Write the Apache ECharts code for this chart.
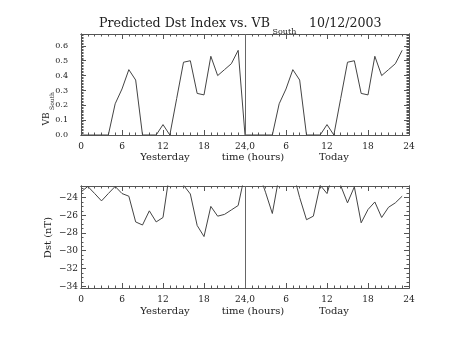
<!DOCTYPE html>
<html>
<head>
<meta charset="utf-8">
<script src="https://cdn.jsdelivr.net/npm/echarts@6/dist/echarts.min.js"></script>
<style>html,body{margin:0;padding:0;background:#fff}#c{width:453px;height:340px}</style>
</head>
<body>
<div id="c"></div>
<script>
// ---- data ----
const hours = [0,1,2,3,4,5,6,7,8,9,10,11,12,13,14,15,16,17,18,19,20,21,22,23,
               24,25,26,27,28,29,30,31,32,33,34,35,36,37,38,39,40,41,42,43,44,45,46,47];
const vbYesterday = [0,0,0,0,0,0.21,0.31,0.44,0.37,0,0,0,0.07,0,0.245,0.49,0.50,0.28,0.27,0.53,0.40,0.44,0.48,0.57];
const vbToday     = [0,0,0,0,0,0.21,0.31,0.44,0.37,0,0,0,0.07,0,0.245,0.49,0.50,0.28,0.27,0.53,0.40,0.44,0.48,0.57];
const dstYesterday = [-23.37,-22.75,-23.55,-24.38,-23.55,-22.75,-23.55,-23.85,-26.75,-27.1,-25.5,-26.75,-26.25,-21.05,-21.5,-22.6,-23.6,-27.15,-28.4,-25.0,-26.1,-25.9,-25.4,-24.9];
const dstToday     = [-21.3,-21.0,-21.2,-23.4,-25.8,-21.55,-21.0,-21.05,-24.0,-26.5,-26.1,-22.6,-23.55,-21.05,-22.65,-24.6,-22.8,-26.85,-25.35,-24.5,-26.25,-25.1,-24.6,-23.85];
const xTickValues = [0,6,12,18,24,30,36,42,48];
const xTickLabels = ['0','6','12','18','24,0','6','12','18','24'];
const vbTickValues = [0,0.1,0.2,0.3,0.4,0.5,0.6];
const vbTickLabels = ['0.0','0.1','0.2','0.3','0.4','0.5','0.6'];
const dstTickValues = [-34,-32,-30,-28,-26,-24];
const dstTickLabels = ['\u221234','\u221232','\u221230','\u221228','\u221226','\u221224'];
const titleText = 'Predicted Dst Index vs. VB';
const titleSub = 'South';
const dateText = '10/12/2003';

// ---- build ----
const vbAll = vbYesterday.concat(vbToday);
const dstAll = dstYesterday.concat(dstToday);
const vbData = hours.map((h,i)=>[h, vbAll[i]]);
const dstData = hours.map((h,i)=>[h, dstAll[i]]);

const xMinor = []; for (let i=0;i<=48;i++) xMinor.push(i);
const vbMinor = []; for (let i=0;i<=68;i++) vbMinor.push(+(i*0.01).toFixed(2));
const dstMinor = []; for (let v=-34;v<=-22.75;v+=0.5) dstMinor.push(v);

const AX = '#555', TX = '#222';
const FONT = 'DejaVu Serif';

function xAxis(grid, pos, labels, ticks, len){
  return {type:'value', gridIndex:grid, position:pos, min:0, max:48,
    axisLine:{show:true, onZero:false, lineStyle:{color:AX,width:1}},
    axisTick:{show:true, inside:true, length:len, customValues:ticks, lineStyle:{color:AX,width:1}},
    axisLabel:{show:labels, customValues:xTickValues, margin:7, fontFamily:FONT, fontSize:9, color:TX,
      formatter:(v)=>xTickLabels[xTickValues.indexOf(v)]},
    splitLine:{show:false}};
}
function yAxis(grid, pos, min, max, labels, ticks, len, labVals, labTexts, margin, fs){
  return {type:'value', gridIndex:grid, position:pos, min:min, max:max,
    axisLine:{show:true, onZero:false, lineStyle:{color:AX,width:1}},
    axisTick:{show:true, inside:true, length:len, customValues:ticks, lineStyle:{color:AX,width:1}},
    axisLabel:{show:labels, customValues:labVals, margin:margin, fontFamily:FONT, fontSize:fs||9, color:TX,
      formatter:(v)=>{ const i = labVals.findIndex(t=>Math.abs(t-v)<1e-6); return i>=0?labTexts[i]:''; }},
    splitLine:{show:false}};
}

const chart = echarts.init(document.getElementById('c'), null, {renderer:'canvas'});
const vline = {silent:true, symbol:['none','none'], label:{show:false},
  lineStyle:{type:'solid', color:'#666', width:1}, data:[{xAxis:24}]};

function txt(x,y,text,size,opts){
  return Object.assign({type:'text', x:x, y:y, silent:true,
    style:{text:text, fontFamily:FONT, fontSize:size, fill:TX, align:'center', verticalAlign:'middle'}}, opts||{});
}
function ltxt(x,y,text,size){
  return {type:'text', x:x, y:y, silent:true,
    style:{text:text, fontFamily:FONT, fontSize:size, fill:TX, align:'left', verticalAlign:'middle'}};
}

chart.setOption({
  animation:false,
  backgroundColor:'#fff',
  grid:[{left:81, top:34, width:328, height:101},
        {left:81, top:186, width:328, height:102}],
  xAxis:[
    xAxis(0,'bottom',true,xTickValues,5),
    xAxis(0,'bottom',false,xMinor,2.5),
    xAxis(0,'top',false,xTickValues,5),
    xAxis(0,'top',false,xMinor,2.5),
    xAxis(1,'bottom',true,xTickValues,5),
    xAxis(1,'bottom',false,xMinor,2.5),
    xAxis(1,'top',false,xTickValues,5),
    xAxis(1,'top',false,xMinor,2.5)
  ],
  yAxis:[
    yAxis(0,'left',0,0.68,true,vbTickValues,5,vbTickValues,vbTickLabels,13,8),
    yAxis(0,'left',0,0.68,false,vbMinor,2.5,vbTickValues,vbTickLabels,13,8),
    yAxis(0,'right',0,0.68,false,vbTickValues,5,vbTickValues,vbTickLabels,13,8),
    yAxis(0,'right',0,0.68,false,vbMinor,2.5,vbTickValues,vbTickLabels,13,8),
    yAxis(1,'left',-34.2,-22.7,true,dstTickValues,5,dstTickValues,dstTickLabels,3),
    yAxis(1,'left',-34.2,-22.7,false,dstMinor,2.5,dstTickValues,dstTickLabels,3),
    yAxis(1,'right',-34.2,-22.7,false,dstTickValues,5,dstTickValues,dstTickLabels,3),
    yAxis(1,'right',-34.2,-22.7,false,dstMinor,2.5,dstTickValues,dstTickLabels,3)
  ],
  series:[
    {type:'line', xAxisIndex:0, yAxisIndex:0, data:vbData, symbol:'none', clip:true,
     lineStyle:{color:'#444', width:1}, markLine:vline},
    {type:'line', xAxisIndex:4, yAxisIndex:4, data:dstData, symbol:'none', clip:true,
     lineStyle:{color:'#444', width:1}, markLine:vline}
  ],
  graphic:[
    ltxt(99,24,titleText,12.6),
    ltxt(272.5,32,titleSub,8),
    ltxt(309,24,dateText,12.6),
    txt(165,157,'Yesterday',10), txt(253,157,'time (hours)',10), txt(334,157,'Today',10),
    txt(165,311,'Yesterday',10), txt(253,311,'time (hours)',10), txt(334,311,'Today',10),
    txt(46.5,119,'VB',9,{rotation:Math.PI/2}),
    txt(52.5,101,'South',6,{rotation:Math.PI/2}),
    txt(48.5,237.5,'Dst (nT)',10,{rotation:Math.PI/2})
  ]
});
</script>
</body>
</html>
